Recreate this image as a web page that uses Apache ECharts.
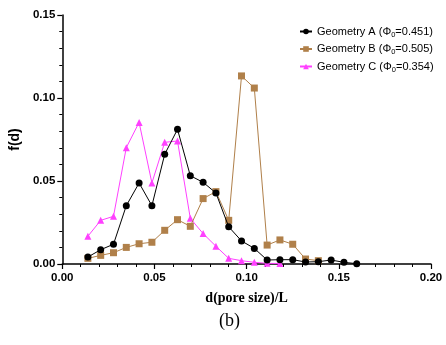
<!DOCTYPE html>
<html>
<head>
<meta charset="utf-8">
<script src="https://cdn.jsdelivr.net/npm/echarts@6/dist/echarts.min.js"></script>
<style>
  html,body{margin:0;padding:0;background:#fff;}
  #main{width:446px;height:345px;}
</style>
</head>
<body>
<div id="main"></div>
<script>
// 孔径 d/L = k/144, k = 2..23
var seriesNames = ['Geometry A (Φ0=0.451)', 'Geometry B (Φ0=0.505)', 'Geometry C (Φ0=0.354)'];
var phiValues = ['0.451', '0.505', '0.354'];
var geoLetters = ['A', 'B', 'C'];

var xA = [2,3,4,5,6,7,8,9,10,11,12,13,14,15,16,17,18,19,20,21,22,23];
var yA = [0.0042,0.0086,0.0119,0.0351,0.0488,0.0351,0.0661,0.0811,0.0532,0.0492,0.0428,0.0224,
          0.0139,0.0094,0.0024,0.0026,0.0026,0.0012,0.0014,0.0024,0.0010,0.0002];
var xB = [2,3,4,5,6,7,8,9,10,11,12,13,14,15,16,17,18,19,20];
var yB = [0.0034,0.0052,0.0068,0.0100,0.0122,0.0131,0.0203,0.0267,0.0227,0.0394,0.0436,0.0263,
          0.1133,0.1060,0.0114,0.0145,0.0119,0.0030,0.0020];
var xC = [2,3,4,5,6,7,8,9,10,11,12,13,14,15,16,17];
var yC = [0.0167,0.0263,0.0287,0.0701,0.0853,0.0488,0.0733,0.0741,0.0275,0.0183,0.0107,0.0034,
          0.0020,0.0010,0.0004,0.0003];

function pairs(xs, ys){
  var out=[];
  for(var i=0;i<xs.length;i++){ out.push([xs[i]/144, ys[i]]); }
  return out;
}

var colors = ['#000000', '#b0804a', '#ff40ff'];
var symbols = ['circle', 'rect', 'triangle'];
var symbolSizes = [7, 7, 7];
var dataSets = [pairs(xA,yA), pairs(xB,yB), pairs(xC,yC)];

var series = [];
for(var s=0;s<3;s++){
  series.push({
    name: seriesNames[s],
    type: 'line',
    data: dataSets[s],
    symbol: symbols[s],
    symbolSize: symbolSizes[s],
    showAllSymbol: true,
    lineStyle: {color: colors[s], width: 1},
    itemStyle: {color: colors[s], borderWidth: 0},
    z: 3 - s
  });
}

var myChart = echarts.init(document.getElementById('main'), null, {renderer: 'canvas'});
var axisFont = {fontFamily: 'Liberation Sans, Arial, sans-serif', fontWeight: 'bold', fontSize: 11.5, color: '#000'};

var option = {
  animation: false,
  backgroundColor: '#fff',
  grid: {left: 57, right: 15, top: 15, bottom: 81, containLabel: false},
  legend: {
    orient: 'vertical',
    left: 294,
    top: 21,
    itemWidth: 12,
    itemHeight: 7,
    itemGap: 5,
    data: seriesNames,
    formatter: function(name){
      var i = seriesNames.indexOf(name);
      return '{t|Geometry ' + geoLetters[i] + ' (Φ}{s|0}{t|=' + phiValues[i] + ')}';
    },
    textStyle: {
      rich: {
        t: {fontFamily: 'Liberation Sans, Arial, sans-serif', fontSize: 11, color: '#000'},
        s: {fontFamily: 'Liberation Sans, Arial, sans-serif', fontSize: 7.5, color: '#000', verticalAlign: 'bottom', padding: [6,0,0,0]}
      }
    }
  },
  xAxis: {
    type: 'value',
    min: 0, max: 0.2, interval: 0.05,
    name: 'd(pore size)/L',
    nameLocation: 'middle',
    nameGap: 27,
    nameTextStyle: {fontFamily: 'Liberation Serif, Times New Roman, serif', fontWeight: 'bold', fontSize: 14, color: '#000'},
    axisLine: {lineStyle: {color: '#000', width: 1.5}},
    axisTick: {show: true, inside: false, length: 5, lineStyle: {color: '#000', width: 1.2}},
    minorTick: {show: true, splitNumber: 5, length: 3, lineStyle: {color: '#000', width: 1}},
    splitLine: {show: false},
    axisLabel: Object.assign({margin: 8, formatter: function(v){ return v.toFixed(2); }}, axisFont)
  },
  yAxis: {
    type: 'value',
    min: 0, max: 0.15, interval: 0.05,
    name: 'f(d)',
    nameLocation: 'middle',
    nameGap: 30,
    nameRotate: 90,
    nameTextStyle: {fontFamily: 'Liberation Sans, Arial, sans-serif', fontWeight: 'bold', fontSize: 14, color: '#000'},
    axisLine: {show: true, lineStyle: {color: '#000', width: 1.5}},
    axisTick: {show: true, inside: false, length: 5, lineStyle: {color: '#000', width: 1.2}},
    minorTick: {show: true, splitNumber: 5, length: 3, lineStyle: {color: '#000', width: 1}},
    splitLine: {show: false},
    axisLabel: Object.assign({margin: 7, formatter: function(v){ return v.toFixed(2); }}, axisFont)
  },
  graphic: [{
    type: 'text',
    left: 219,
    top: 312,
    style: {text: '(b)', font: '18px "Liberation Serif", serif', fill: '#000'}
  }],
  series: series
};

myChart.setOption(option);
</script>
</body>
</html>
